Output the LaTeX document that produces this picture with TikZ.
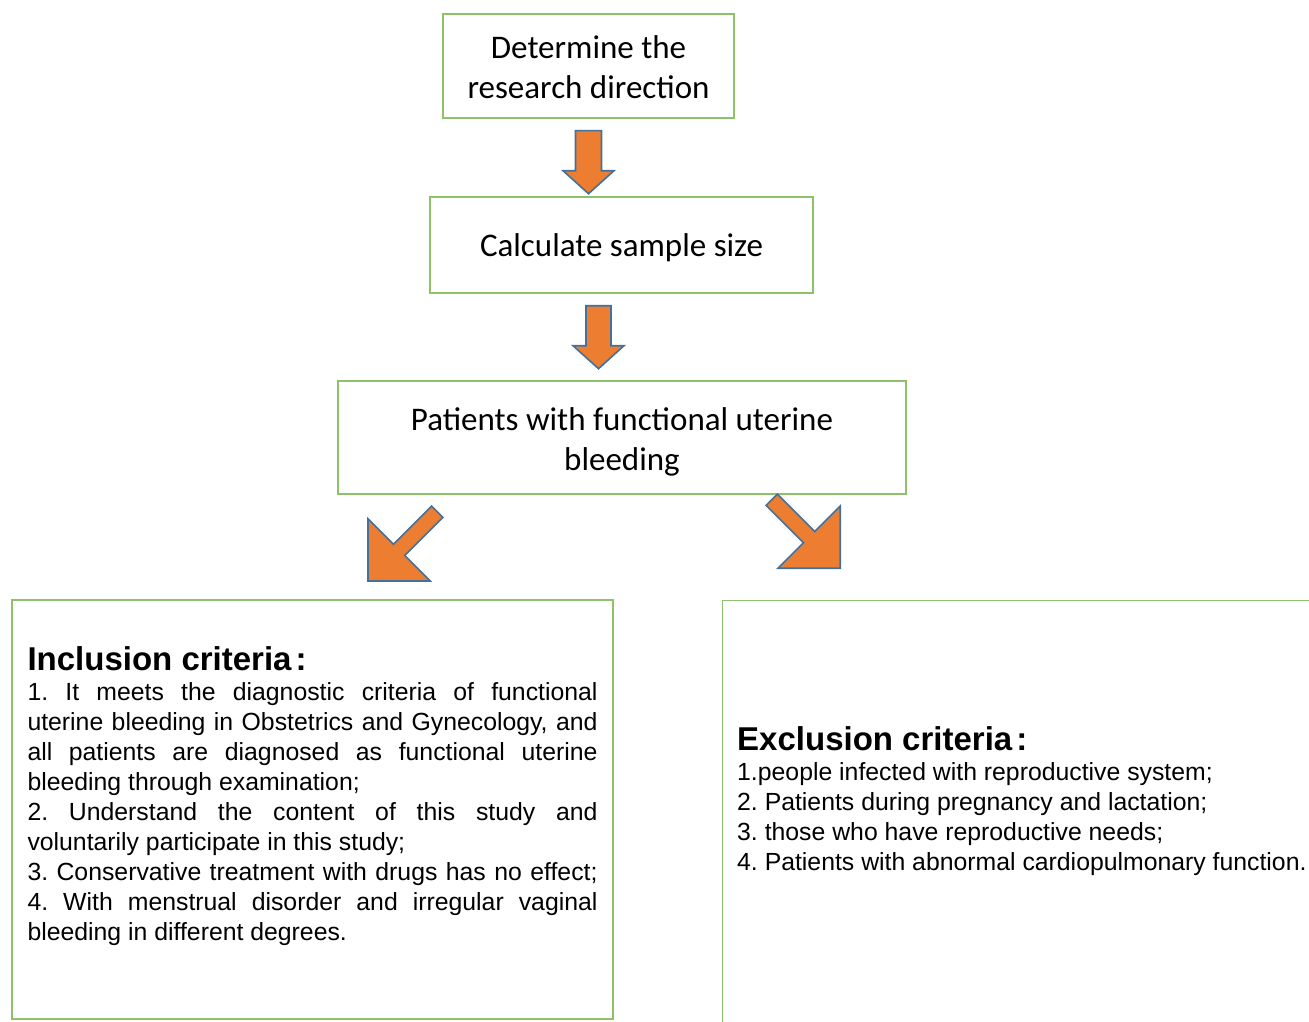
\documentclass[tikz,border=0pt]{standalone}
\usepackage{fontspec}
\setmainfont{Carlito}
\newfontfamily\arialfont{Liberation Sans}
\usetikzlibrary{positioning,calc}

\definecolor{boxgreen}{RGB}{141,194,106}
\definecolor{arroworange}{RGB}{237,125,49}
\definecolor{arrowedge}{RGB}{65,113,156}

% struts for the step boxes
\newcommand{\topstrut}{\rule{0pt}{34pt}}
\newcommand{\botstrut}{\rule[-8pt]{0pt}{0pt}}

% fat block arrow: start, angle, length, half shaft, half head, head length
\newcommand{\blockarrow}[6]{%
	\filldraw[fatarrow, shift={(#1)}, rotate=#2]
	(0,-#4) -- ({#3-#6},-#4) -- ({#3-#6},-#5) -- (#3,0)
	-- ({#3-#6},#5) -- ({#3-#6},#4) -- (0,#4) -- cycle;}

\begin{document}
\begin{tikzpicture}[
		x=1pt, y=-1pt,
		box/.style={draw=boxgreen, line width=1.4pt, align=center, inner sep=0pt,
			font=\fontsize{33}{40}\selectfont},
		critbox/.style={draw=boxgreen, line width=1.4pt, inner sep=0pt},
		crit/.style={align=left, inner sep=0pt, font=\arialfont\fontsize{24.8}{30}\selectfont\frenchspacing},
		fatarrow/.style={fill=arroworange, draw=arrowedge, line width=1.6pt, line join=miter}
		]
		
		\useasboundingbox (0,0) rectangle (1309,1022);
		\clip (0,0) rectangle (1309,1022);
		
		% -------------------------
		% Steps
		% -------------------------
		\node[box, minimum width=291pt, minimum height=104pt] (dir) at (588.5,66) {%
			\topstrut Determine the\\research direction\botstrut};
		
		\node[box, minimum width=383pt, minimum height=96pt] (size) at (621.5,245) {%
			\rule[-10pt]{0pt}{42pt}Calculate sample size};
		
		\node[box, minimum width=568pt, minimum height=113pt] (pat) at (622,437.5) {%
			\topstrut Patients with functional uterine\\bleeding\botstrut};
		
		% -------------------------
		% Criteria
		% -------------------------
		\node[critbox, minimum width=601pt, minimum height=419pt] (inc) at (312.5,809.5) {};
		\node[critbox, minimum width=620pt, minimum height=440pt, anchor=north west] (exc) at (722,600) {};
		
		\node[crit, anchor=north west] (inctext) at ($(inc.north west)+(16,47)$) {%
			{\bfseries\fontsize{33}{31}\selectfont Inclusion criteria\hspace{4pt}:}\\
			\makebox[570pt][s]{1. It meets the diagnostic criteria of functional}\\
			\makebox[570pt][s]{uterine bleeding in Obstetrics and Gynecology, and}\\
			\makebox[570pt][s]{all patients are diagnosed as functional uterine}\\
			bleeding through examination;\\
			\makebox[570pt][s]{2. Understand the content of this study and}\\
			voluntarily participate in this study;\\
			\makebox[570pt][s]{3. Conservative treatment with drugs has no effect;}\\
			\makebox[570pt][s]{4. With menstrual disorder and irregular vaginal}\\
			bleeding in different degrees.
		};
		
		\node[crit, anchor=north west] (exctext) at ($(exc.north west)+(15,126)$) {%
			{\bfseries\fontsize{33}{31}\selectfont Exclusion criteria\hspace{4pt}:}\\
			1.people infected with reproductive system;\\
			2. Patients during pregnancy and lactation;\\
			3. those who have reproductive needs;\\
			4. Patients with abnormal cardiopulmonary function.
		};
		
		% -------------------------
		% Arrows
		% -------------------------
		\coordinate (a1) at ($(dir.south)+(0,12)$);
		\coordinate (a2) at ($(size.south)+(-23,12)$);
		\coordinate (a3) at ($(pat.south west)+(100,17)$);
		\coordinate (a4) at ($(pat.south east)+(-135,5)$);
		
		\blockarrow{a1}{-90}{63}{13}{25.5}{23}
		\blockarrow{a2}{-90}{63}{12.5}{25.5}{23}
		\blockarrow{a3}{-135}{98}{8}{44}{44}
		\blockarrow{a4}{-45}{97}{8}{44}{44}
		
	\end{tikzpicture}
\end{document}
